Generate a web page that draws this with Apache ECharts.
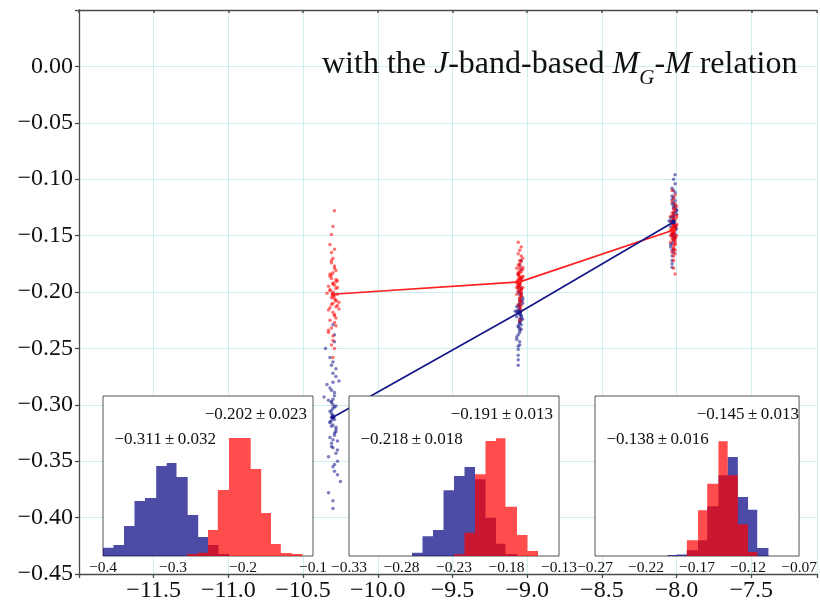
<!DOCTYPE html>
<html><head><meta charset="utf-8">
<script src="https://cdn.jsdelivr.net/npm/echarts@6/dist/echarts.min.js"></script>
<style>html,body{margin:0;padding:0;background:#fff}#c{width:820px;height:603px}</style>
</head><body><div id="c"></div>
<script>
// ---------- tick labels ----------
const xTickLabels = [-11.5, -11.0, -10.5, -10.0, -9.5, -9.0, -8.5, -8.0, -7.5];
const yTickLabels = [0.00, -0.05, -0.10, -0.15, -0.20, -0.25, -0.30, -0.35, -0.40, -0.45];
const inset1Ticks = [-0.4, -0.3, -0.2, -0.1];
const inset2Ticks = [-0.33, -0.28, -0.23, -0.18, -0.13];
const inset3Ticks = [-0.27, -0.22, -0.17, -0.12, -0.07];

// ---------- centres (M, offset) ----------
const centerX = [-10.30, -9.05, -8.02];
const redMean = [-0.202, -0.191, -0.145];
const redErr = [0.023, 0.013, 0.013];
const blueMean = [-0.311, -0.218, -0.138];
const blueErr = [0.032, 0.018, 0.016];

// ---------- scatter clouds ----------
const red1X = [-10.30,-10.28,-10.31,-10.29,-10.33,-10.28,-10.32,-10.30,-10.27,-10.31,-10.29,-10.32,-10.26,-10.30,-10.31,-10.28,-10.33,-10.29,-10.30,-10.32,-10.29,-10.27,-10.31,-10.30,-10.28,-10.34,-10.29,-10.31,-10.30,-10.28,-10.32,-10.29,-10.27,-10.31,-10.30,-10.32,-10.28,-10.29,-10.33,-10.30,-10.29,-10.31,-10.28,-10.30,-10.32,-10.27,-10.29,-10.31,-10.30,-10.28,-10.29,-10.32,-10.30,-10.26,-10.31,-10.29,-10.33,-10.28,-10.30,-10.31];
const red1Y = [-0.200,-0.213,-0.174,-0.227,-0.195,-0.207,-0.184,-0.239,-0.202,-0.188,-0.220,-0.158,-0.209,-0.193,-0.232,-0.197,-0.216,-0.179,-0.204,-0.186,-0.250,-0.190,-0.211,-0.170,-0.223,-0.201,-0.206,-0.149,-0.218,-0.181,-0.225,-0.194,-0.212,-0.165,-0.243,-0.198,-0.208,-0.177,-0.234,-0.192,-0.203,-0.185,-0.230,-0.142,-0.214,-0.196,-0.221,-0.172,-0.258,-0.189,-0.128,-0.199,-0.183,-0.215,-0.205,-0.162,-0.236,-0.191,-0.210,-0.247];
const blue1X = [-10.31,-10.29,-10.30,-10.33,-10.28,-10.30,-10.32,-10.27,-10.31,-10.29,-10.30,-10.35,-10.28,-10.31,-10.29,-10.32,-10.30,-10.26,-10.31,-10.29,-10.33,-10.30,-10.28,-10.31,-10.27,-10.30,-10.32,-10.29,-10.31,-10.34,-10.28,-10.30,-10.29,-10.32,-10.25,-10.30,-10.31,-10.28,-10.30,-10.33,-10.29,-10.31,-10.27,-10.30,-10.32,-10.29,-10.31,-10.28,-10.30,-10.36,-10.29,-10.31,-10.30,-10.27,-10.32,-10.30,-10.29,-10.31,-10.28,-10.30];
const blue1Y = [-0.305,-0.327,-0.272,-0.346,-0.301,-0.318,-0.285,-0.362,-0.311,-0.292,-0.338,-0.250,-0.320,-0.298,-0.353,-0.306,-0.331,-0.279,-0.314,-0.289,-0.378,-0.295,-0.324,-0.265,-0.340,-0.309,-0.316,-0.238,-0.334,-0.282,-0.343,-0.300,-0.325,-0.258,-0.368,-0.303,-0.319,-0.275,-0.355,-0.296,-0.313,-0.287,-0.350,-0.229,-0.329,-0.302,-0.337,-0.268,-0.392,-0.293,-0.244,-0.308,-0.280,-0.332,-0.315,-0.262,-0.359,-0.297,-0.322,-0.385];
const red2X = [-9.05,-9.04,-9.06,-9.05,-9.03,-9.06,-9.05,-9.04,-9.07,-9.05,-9.04,-9.06,-9.05,-9.03,-9.05,-9.06,-9.04,-9.05,-9.07,-9.04,-9.05,-9.06,-9.03,-9.05,-9.04,-9.06,-9.05,-9.04,-9.05,-9.07,-9.04,-9.05,-9.06,-9.03,-9.05,-9.04,-9.06,-9.05,-9.04,-9.06,-9.05,-9.03,-9.05,-9.06,-9.04,-9.05,-9.07,-9.04,-9.05,-9.06,-9.05,-9.04,-9.03,-9.06,-9.05,-9.04,-9.06,-9.05,-9.07,-9.04];
const red2Y = [-0.190,-0.197,-0.176,-0.205,-0.187,-0.194,-0.181,-0.212,-0.191,-0.183,-0.201,-0.166,-0.195,-0.186,-0.208,-0.189,-0.199,-0.178,-0.192,-0.182,-0.218,-0.185,-0.196,-0.172,-0.203,-0.190,-0.193,-0.160,-0.200,-0.179,-0.204,-0.188,-0.197,-0.170,-0.214,-0.189,-0.195,-0.175,-0.209,-0.184,-0.192,-0.180,-0.207,-0.156,-0.198,-0.187,-0.202,-0.173,-0.225,-0.183,-0.163,-0.190,-0.178,-0.199,-0.193,-0.168,-0.211,-0.186,-0.196,-0.216];
const blue2X = [-9.06,-9.05,-9.04,-9.06,-9.05,-9.07,-9.04,-9.05,-9.06,-9.03,-9.05,-9.06,-9.04,-9.05,-9.07,-9.05,-9.04,-9.06,-9.05,-9.03,-9.06,-9.05,-9.04,-9.06,-9.05,-9.08,-9.04,-9.05,-9.06,-9.04,-9.05,-9.07,-9.05,-9.04,-9.06,-9.05,-9.03,-9.06,-9.05,-9.04,-9.06,-9.05,-9.07,-9.04,-9.05,-9.06,-9.04,-9.05,-9.06,-9.05,-9.04,-9.07,-9.05,-9.06,-9.04,-9.05,-9.06,-9.03,-9.05,-9.06];
const blue2Y = [-0.216,-0.226,-0.197,-0.238,-0.212,-0.222,-0.203,-0.247,-0.218,-0.207,-0.232,-0.184,-0.223,-0.211,-0.242,-0.215,-0.229,-0.200,-0.220,-0.205,-0.256,-0.209,-0.225,-0.192,-0.234,-0.217,-0.221,-0.176,-0.231,-0.201,-0.236,-0.213,-0.227,-0.188,-0.251,-0.214,-0.224,-0.196,-0.244,-0.208,-0.219,-0.202,-0.240,-0.172,-0.228,-0.212,-0.233,-0.194,-0.265,-0.206,-0.180,-0.217,-0.199,-0.230,-0.221,-0.190,-0.248,-0.210,-0.224,-0.260];
const red3X = [-8.02,-8.01,-8.03,-8.02,-8.00,-8.03,-8.02,-8.01,-8.04,-8.02,-8.01,-8.03,-8.02,-8.00,-8.02,-8.03,-8.01,-8.02,-8.04,-8.01,-8.02,-8.03,-8.00,-8.02,-8.01,-8.03,-8.02,-8.01,-8.02,-8.04,-8.01,-8.02,-8.03,-8.00,-8.02,-8.01,-8.03,-8.02,-8.01,-8.03,-8.02,-8.00,-8.02,-8.03,-8.01,-8.02,-8.04,-8.01,-8.02,-8.03,-8.02,-8.01,-8.00,-8.03,-8.02,-8.01,-8.03,-8.02,-8.04,-8.01];
const red3Y = [-0.144,-0.151,-0.130,-0.159,-0.141,-0.148,-0.135,-0.166,-0.145,-0.137,-0.155,-0.120,-0.149,-0.140,-0.162,-0.143,-0.153,-0.132,-0.146,-0.136,-0.172,-0.139,-0.150,-0.126,-0.157,-0.144,-0.147,-0.114,-0.154,-0.133,-0.158,-0.142,-0.151,-0.124,-0.168,-0.143,-0.149,-0.129,-0.163,-0.138,-0.146,-0.134,-0.161,-0.110,-0.152,-0.141,-0.156,-0.127,-0.179,-0.137,-0.117,-0.144,-0.132,-0.153,-0.147,-0.122,-0.165,-0.140,-0.150,-0.184];
const blue3X = [-8.03,-8.02,-8.01,-8.03,-8.02,-8.04,-8.01,-8.02,-8.03,-8.00,-8.02,-8.03,-8.01,-8.02,-8.04,-8.02,-8.01,-8.03,-8.02,-8.00,-8.03,-8.02,-8.01,-8.03,-8.02,-8.05,-8.01,-8.02,-8.03,-8.01,-8.02,-8.04,-8.02,-8.01,-8.03,-8.02,-8.00,-8.03,-8.02,-8.01,-8.03,-8.02,-8.04,-8.01,-8.02,-8.03,-8.01,-8.02,-8.03,-8.02,-8.01,-8.04,-8.02,-8.03,-8.01,-8.02,-8.03,-8.00,-8.02,-8.03];
const blue3Y = [-0.137,-0.146,-0.119,-0.157,-0.133,-0.142,-0.125,-0.165,-0.138,-0.128,-0.151,-0.108,-0.143,-0.132,-0.160,-0.136,-0.149,-0.122,-0.140,-0.127,-0.172,-0.130,-0.145,-0.115,-0.153,-0.137,-0.141,-0.100,-0.150,-0.123,-0.155,-0.134,-0.147,-0.112,-0.168,-0.135,-0.144,-0.118,-0.162,-0.129,-0.139,-0.124,-0.158,-0.096,-0.148,-0.133,-0.152,-0.116,-0.178,-0.126,-0.104,-0.137,-0.121,-0.149,-0.142,-0.110,-0.163,-0.131,-0.145,-0.175];

// ---------- histograms: [binLow, binHigh, count] ----------
const hist1Blue = [[-0.400,-0.385,8.3],[-0.385,-0.370,11],[-0.370,-0.355,30],[-0.355,-0.340,55],[-0.340,-0.324,58],[-0.324,-0.309,90],[-0.309,-0.295,93],[-0.295,-0.279,79],[-0.279,-0.264,41],[-0.264,-0.250,19],[-0.250,-0.235,11],[-0.235,-0.220,2]];
const hist1Red = [[-0.280,-0.265,2],[-0.265,-0.250,3.3],[-0.250,-0.236,26],[-0.236,-0.220,66],[-0.220,-0.204,118],[-0.204,-0.189,118],[-0.189,-0.174,87],[-0.174,-0.160,43],[-0.160,-0.146,12],[-0.146,-0.130,3],[-0.130,-0.115,2]];
const hist2Blue = [[-0.270,-0.260,3.3],[-0.260,-0.250,19.7],[-0.250,-0.240,26],[-0.240,-0.230,65.7],[-0.230,-0.220,80],[-0.220,-0.210,89],[-0.210,-0.200,76.7],[-0.200,-0.190,38.3],[-0.190,-0.181,12.3],[-0.181,-0.170,2]];
const hist2Red = [[-0.230,-0.220,1.7],[-0.220,-0.210,23.3],[-0.210,-0.200,81.7],[-0.200,-0.190,115],[-0.190,-0.181,117.7],[-0.181,-0.170,49.3],[-0.170,-0.160,21],[-0.160,-0.150,5]];
const hist3Blue = [[-0.199,-0.190,1],[-0.190,-0.180,1.5],[-0.180,-0.169,5.7],[-0.169,-0.160,15.7],[-0.160,-0.149,49.7],[-0.149,-0.140,80.7],[-0.140,-0.130,99],[-0.130,-0.120,59],[-0.120,-0.111,46.3],[-0.111,-0.100,8]];
const hist3Red = [[-0.180,-0.169,15.7],[-0.169,-0.160,45.7],[-0.160,-0.149,72.3],[-0.149,-0.140,114.7],[-0.140,-0.130,80.7],[-0.130,-0.120,31.7],[-0.120,-0.111,4]];

// ---------- styling / layout ----------
const SERIF = "'Liberation Serif','Times New Roman',serif";
const RED = '#ff1f1f', BLUE = '#16168a';
const HRED = 'rgba(255,0,0,0.7)', HBLUE = 'rgba(0,0,128,0.7)';
const GRIDC = '#cdeff0', AXC = '#4a4a4a';
const main = {left: 79, top: 10, width: 741, height: 569};
const insets = [
  {left: 103, top: 396, width: 210, height: 160, min: -0.4, max: -0.1, interval: 0.1, dec: 1, ticks: inset1Ticks, blue: hist1Blue, red: hist1Red},
  {left: 349, top: 396, width: 210, height: 160, min: -0.33, max: -0.13, interval: 0.05, dec: 2, ticks: inset2Ticks, blue: hist2Blue, red: hist2Red},
  {left: 595, top: 396, width: 210, height: 160, min: -0.27, max: -0.07, interval: 0.05, dec: 2, ticks: inset3Ticks, blue: hist3Blue, red: hist3Red}
];

const fmt = (v, d) => (v < 0 ? '\u2212' : '') + Math.abs(v).toFixed(d);
const pick = (list, d) => v => { const m = list.find(t => Math.abs(t - v) < 1e-6); return m === undefined ? '' : fmt(m, d); };
const zip = (xs, ys) => xs.map((x, i) => [x, ys[i]]);

const grids = [{left: main.left, top: main.top, width: main.width, height: main.height, show: false}];
const xAxes = [
  {gridIndex: 0, type: 'value', min: -12, max: -12 + main.width / 150, interval: 0.5, position: 'bottom',
   axisLine: {show: true, onZero: false, lineStyle: {color: AXC, width: 1.3}},
   axisTick: {show: true, length: 4, lineStyle: {color: AXC, width: 1.3}},
   axisLabel: {formatter: pick(xTickLabels, 1), fontFamily: SERIF, fontSize: 24, color: '#111', margin: 5, showMinLabel: true, showMaxLabel: true},
   splitLine: {show: true, lineStyle: {color: GRIDC, width: 1}}},
  {gridIndex: 0, type: 'value', min: -12, max: -12 + main.width / 150, interval: 0.5, position: 'top',
   axisLine: {show: true, onZero: false, lineStyle: {color: AXC, width: 1.3}},
   axisTick: {show: true, length: 3, inside: true, lineStyle: {color: AXC, width: 1.5}},
   axisLabel: {show: false}, splitLine: {show: false}}
];
const yAxes = [
  {gridIndex: 0, type: 'value', min: -0.45, max: 0.05, interval: 0.05, position: 'left',
   axisLine: {show: true, onZero: false, lineStyle: {color: AXC, width: 1.3}},
   axisTick: {show: true, length: 4, lineStyle: {color: AXC, width: 1.3}},
   axisLabel: {formatter: pick(yTickLabels, 2), fontFamily: SERIF, fontSize: 24, color: '#111', margin: 6},
   splitLine: {show: true, lineStyle: {color: GRIDC, width: 1}}}
];

const series = [
  {type: 'scatter', xAxisIndex: 0, yAxisIndex: 0, z: 1, symbolSize: 3.5, silent: true, itemStyle: {color: BLUE, opacity: 0.55},
   data: zip(blue1X, blue1Y).concat(zip(blue2X, blue2Y), zip(blue3X, blue3Y))},
  {type: 'scatter', xAxisIndex: 0, yAxisIndex: 0, z: 1, symbolSize: 3.5, silent: true, itemStyle: {color: '#ff0000', opacity: 0.55},
   data: zip(red1X, red1Y).concat(zip(red2X, red2Y), zip(red3X, red3Y))},
  {type: 'line', xAxisIndex: 0, yAxisIndex: 0, z: 2, symbol: 'circle', symbolSize: 4.5, silent: true,
   lineStyle: {color: RED, width: 1.7}, itemStyle: {color: RED}, data: zip(centerX, redMean)},
  {type: 'line', xAxisIndex: 0, yAxisIndex: 0, z: 2, symbol: 'circle', symbolSize: 4.5, silent: true,
   lineStyle: {color: BLUE, width: 1.7}, itemStyle: {color: BLUE}, data: zip(centerX, blueMean)}
];

function histSeries(bins, xi, yi, color) {
  return {
    type: 'custom', coordinateSystem: 'cartesian2d', xAxisIndex: xi, yAxisIndex: yi, z: 6, silent: true, clip: true,
    data: [[bins[0][0], 0]],
    renderItem: (params, api) => {
      const pts = [];
      bins.forEach(b => {
        pts.push(api.coord([b[0], 0]), api.coord([b[0], b[2]]), api.coord([b[1], b[2]]), api.coord([b[1], 0]));
      });
      return {type: 'polygon', shape: {points: pts}, style: {fill: color}};
    }
  };
}

const graphics = [];
insets.forEach((ins, k) => {
  const gi = k + 1;
  grids.push({left: ins.left, top: ins.top, width: ins.width, height: ins.height, show: true,
              backgroundColor: '#ffffff', borderColor: '#555', borderWidth: 1, z: 5});
  xAxes.push({gridIndex: gi, type: 'value', min: ins.min, max: ins.max, interval: ins.interval, z: 7,
              axisLine: {show: false, onZero: false}, axisTick: {show: false}, splitLine: {show: false},
              axisLabel: {formatter: pick(ins.ticks, ins.dec), fontFamily: SERIF, fontSize: 15.5, color: '#111', margin: 4, showMinLabel: true, showMaxLabel: true}});
  yAxes.push({gridIndex: gi, type: 'value', min: 0, max: 160, show: false});
  const xi = xAxes.length - 1, yi = yAxes.length - 1;
  series.push(histSeries(ins.blue, xi, yi, HBLUE));
  series.push(histSeries(ins.red, xi, yi, HRED));
  graphics.push({type: 'text', z: 20, x: ins.left + ins.width - 6, y: ins.top + 19,
                 style: {text: fmt(redMean[k], 3) + '\u2009\u00b1\u2009' + redErr[k].toFixed(3), font: '17px ' + SERIF, fill: '#111', textAlign: 'right', textVerticalAlign: 'middle'}});
  graphics.push({type: 'text', z: 20, x: ins.left + 11.5, y: ins.top + 44,
                 style: {text: fmt(blueMean[k], 3) + '\u2009\u00b1\u2009' + blueErr[k].toFixed(3), font: '17px ' + SERIF, fill: '#111', textAlign: 'left', textVerticalAlign: 'middle'}});
});

const chart = echarts.init(document.getElementById('c'), null, {renderer: 'canvas'});
chart.setOption({
  animation: false,
  backgroundColor: '#ffffff',
  title: {
    text: '{n|with the }{i|J}{n|-band-based }{i|M}{s|G}{n|-}{i|M}{n| relation}',
    left: 322, top: 49, padding: 0,
    textStyle: {
      fontWeight: 'normal',
      rich: {
        n: {fontFamily: SERIF, fontSize: 32, fontWeight: 'normal', color: '#111', lineHeight: 36, verticalAlign: 'top'},
        i: {fontFamily: SERIF, fontSize: 32, fontWeight: 'normal', fontStyle: 'italic', color: '#111', lineHeight: 36, verticalAlign: 'top'},
        s: {fontFamily: SERIF, fontSize: 21, fontWeight: 'normal', fontStyle: 'italic', color: '#111', lineHeight: 21, padding: [19, 0, 0, 0], verticalAlign: 'top'}
      }
    }
  },
  grid: grids,
  xAxis: xAxes,
  yAxis: yAxes,
  series: series,
  graphic: graphics
});
</script>
</body></html>
